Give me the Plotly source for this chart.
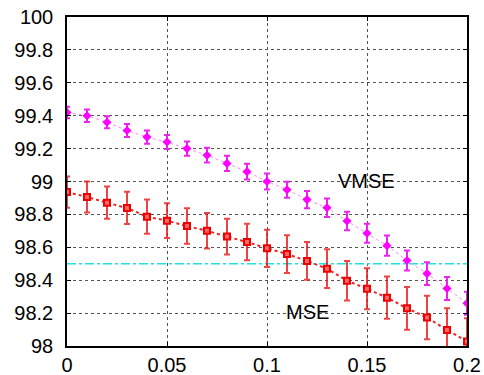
import plotly.graph_objects as go

x_vals = [0.00, 0.01, 0.02, 0.03, 0.04, 0.05, 0.06, 0.07, 0.08, 0.09, 0.10,
          0.11, 0.12, 0.13, 0.14, 0.15, 0.16, 0.17, 0.18, 0.19, 0.20]
vmse = [99.42, 99.40, 99.36, 99.31, 99.27, 99.24, 99.20, 99.16, 99.11, 99.06, 99.00,
        98.95, 98.89, 98.84, 98.76, 98.685, 98.61, 98.52, 98.44, 98.35, 98.26]
vmse_err = [0.035, 0.038, 0.037, 0.039, 0.040, 0.042, 0.043, 0.045, 0.046, 0.048, 0.049,
            0.049, 0.053, 0.056, 0.056, 0.058, 0.062, 0.061, 0.069, 0.070, 0.070]
mse = [98.936, 98.906, 98.871, 98.839, 98.786, 98.762, 98.729, 98.70, 98.665, 98.632, 98.594,
       98.559, 98.517, 98.47, 98.397, 98.348, 98.294, 98.229, 98.173, 98.097, 98.028]
mse_err = [0.095, 0.094, 0.098, 0.098, 0.104, 0.106, 0.108, 0.108, 0.109, 0.111, 0.113,
           0.115, 0.115, 0.118, 0.120, 0.125, 0.129, 0.130, 0.132, 0.132, 0.140]
ref_level = 98.5
x_ticks = [0, 0.05, 0.1, 0.15, 0.2]
x_tick_text = ["0", "0.05", "0.1", "0.15", "0.2"]
y_ticks = [98, 98.2, 98.4, 98.6, 98.8, 99, 99.2, 99.4, 99.6, 99.8, 100]
y_tick_text = ["98", "98.2", "98.4", "98.6", "98.8", "99", "99.2", "99.4", "99.6", "99.8", "100"]

fig = go.Figure()

fig.add_trace(go.Scatter(
    x=[0, 0.2], y=[ref_level, ref_level], mode="lines",
    line=dict(color="#22e0e0", width=1.3, dash="dashdot"),
    hoverinfo="skip", cliponaxis=True))

fig.add_trace(go.Scatter(
    x=x_vals, y=vmse, mode="lines+markers",
    line=dict(color="#ff88ff", width=1, dash="dot"),
    marker=dict(symbol="diamond", size=7, color="#ff00ff"),
    error_y=dict(type="data", array=vmse_err, color="#ee22ee", thickness=2, width=3),
    cliponaxis=True))

fig.add_trace(go.Scatter(
    x=x_vals, y=mse, mode="lines+markers",
    line=dict(color="#ee2222", width=2, dash="dot"),
    marker=dict(symbol="square", size=6, color="#ff6666",
                line=dict(color="#ee0000", width=2)),
    error_y=dict(type="data", array=mse_err, color="rgba(235,20,20,0.8)", thickness=2, width=3),
    cliponaxis=True))

fig.add_annotation(x=0.1495, y=99.003, text="VMSE", showarrow=False,
                   font=dict(family="Liberation Sans, Arial", size=20, color="black"))
fig.add_annotation(x=0.12, y=98.207, text="MSE", showarrow=False,
                   font=dict(family="Liberation Sans, Arial", size=20, color="black"))

axis_common = dict(
    showline=True, linecolor="black", linewidth=1.5, mirror="ticks",
    ticks="inside", ticklen=4, tickcolor="black", tickwidth=1,
    showgrid=True, gridcolor="#555555", gridwidth=1, griddash="dot",
    zeroline=False, automargin=False,
    tickfont=dict(family="Liberation Sans, Arial", size=20, color="black"),
)

fig.update_xaxes(range=[0, 0.2], tickvals=x_ticks, ticktext=x_tick_text,
                 ticklabelstandoff=0, **axis_common)
fig.update_yaxes(range=[98, 100], tickvals=y_ticks, ticktext=y_tick_text,
                 ticklabelstandoff=8, **axis_common)

fig.update_layout(
    width=484, height=375,
    margin=dict(l=67, r=17, t=17, b=29, pad=0),
    plot_bgcolor="white", paper_bgcolor="white",
    showlegend=False,
)

fig.write_html("out.html")
